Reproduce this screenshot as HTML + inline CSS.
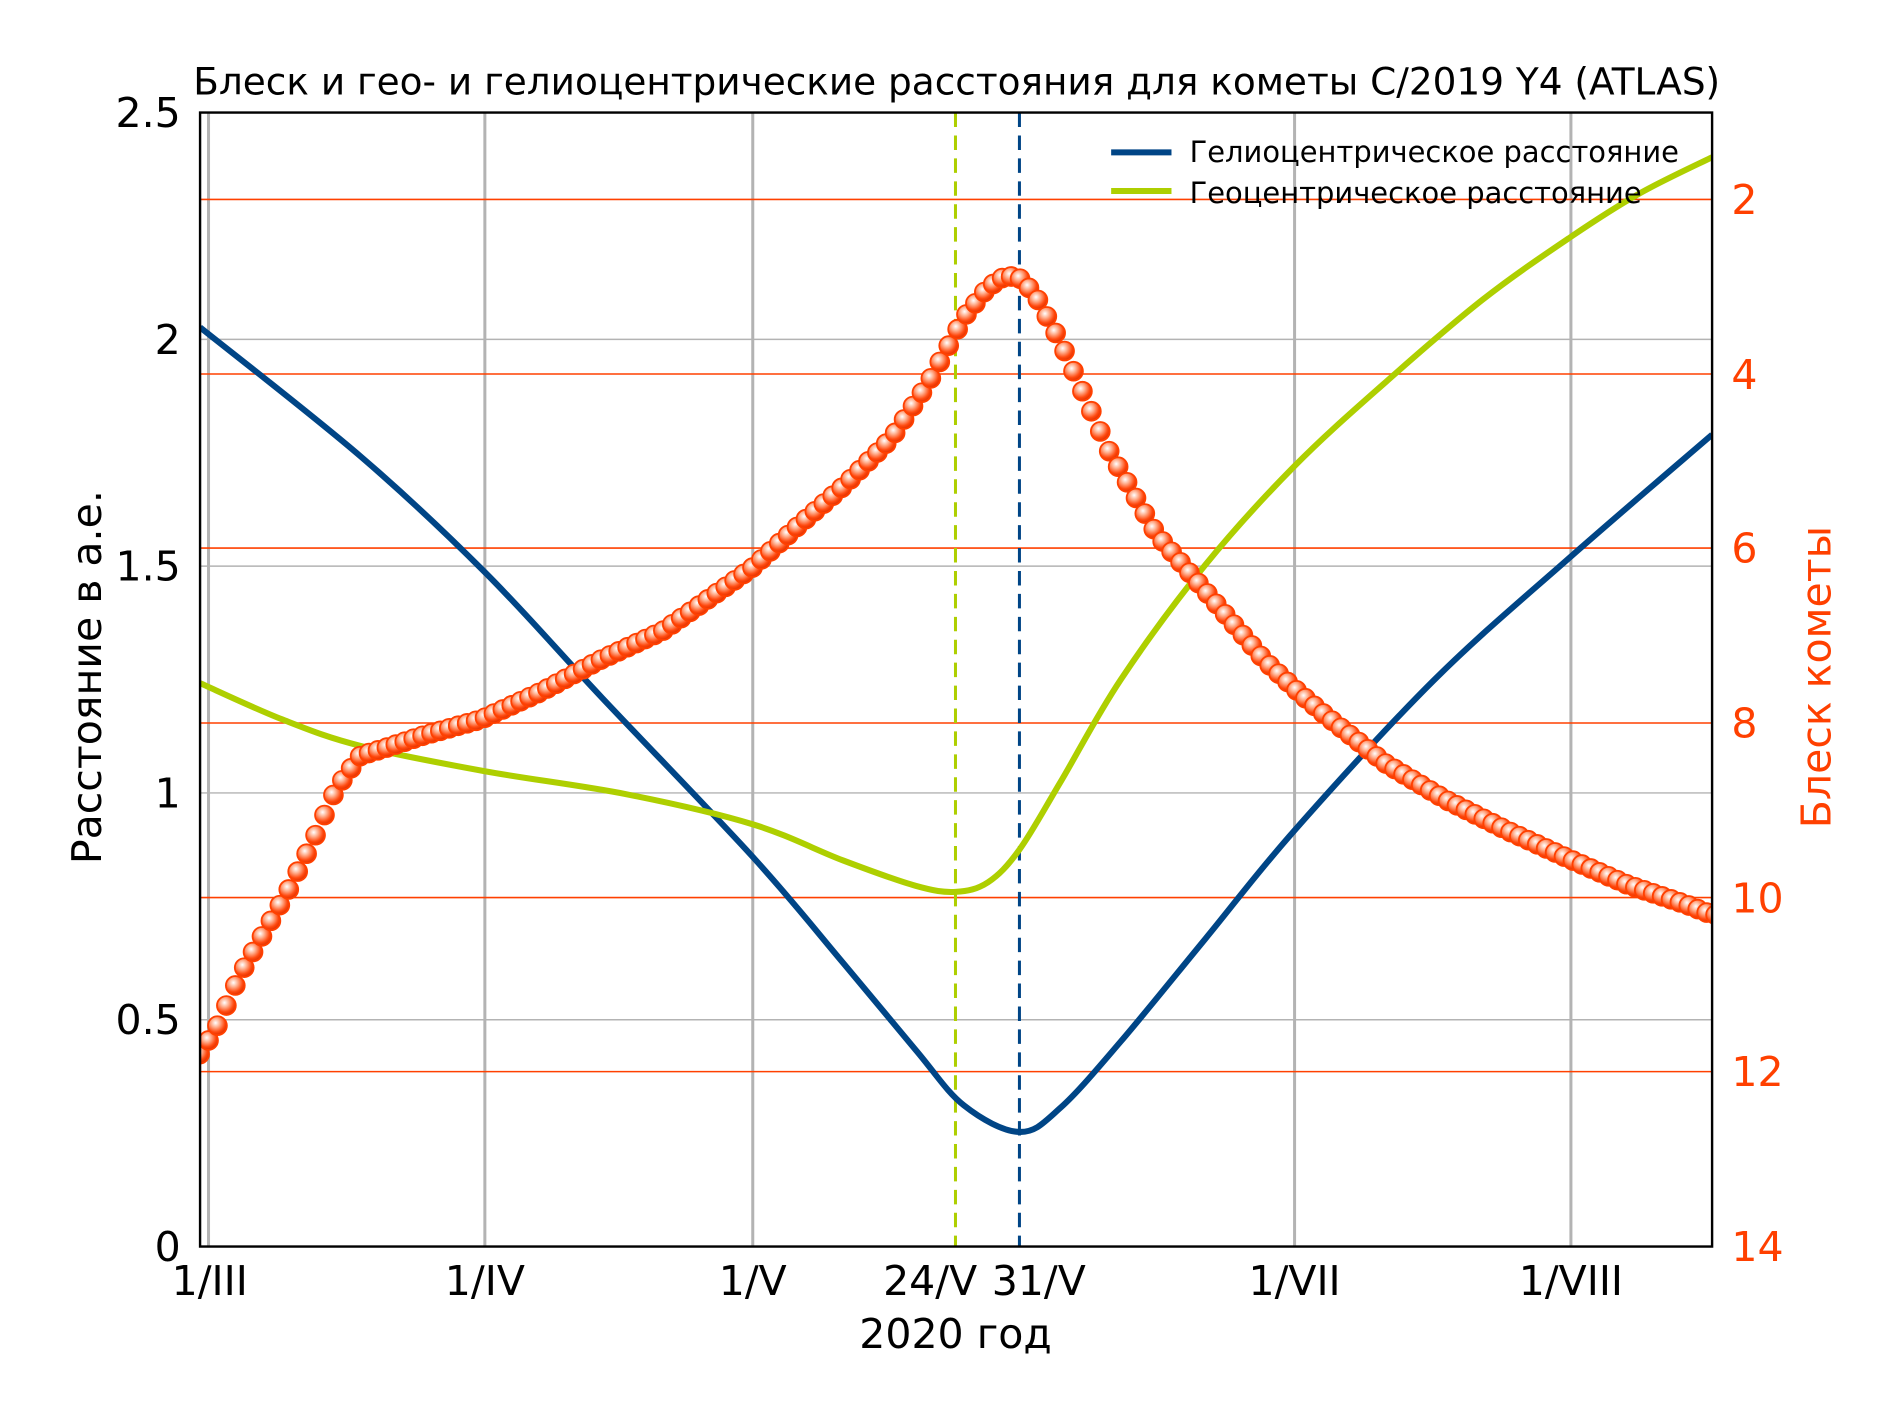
<!DOCTYPE html>
<html><head><meta charset="utf-8"><style>
html,body{margin:0;padding:0;background:#fff}
svg{display:block}
text{font-family:"DejaVu Sans","Liberation Sans",sans-serif}
</style></head><body>
<svg id="s" width="1889" height="1417" viewBox="1.2 1.7 1565.4 1174.6" preserveAspectRatio="none" xmlns="http://www.w3.org/2000/svg">
<defs>
<radialGradient id="g" cx="0.4" cy="0.35" r="0.65">
<stop offset="0" stop-color="#ffffff"/>
<stop offset="0.35" stop-color="#ffb090"/>
<stop offset="0.75" stop-color="#ff4a10"/>
<stop offset="1" stop-color="#e03000"/>
</radialGradient>
<clipPath id="c"><rect x="167" y="95" width="1253" height="940"/></clipPath>
</defs>
<rect x="0" y="0" width="1600" height="1200" fill="#fff"/>
<g stroke="#b3b3b3" stroke-width="2.5">
<line x1="174" y1="95" x2="174" y2="1035"/>
<line x1="403" y1="95" x2="403" y2="1035"/>
<line x1="625" y1="95" x2="625" y2="1035"/>
<line x1="1074" y1="95" x2="1074" y2="1035"/>
<line x1="1303" y1="95" x2="1303" y2="1035"/>
</g>
<g stroke="#b3b3b3" stroke-width="1.2">
<line x1="167" y1="847" x2="1420" y2="847"/>
<line x1="167" y1="659" x2="1420" y2="659"/>
<line x1="167" y1="471" x2="1420" y2="471"/>
<line x1="167" y1="283" x2="1420" y2="283"/>
</g>
<g stroke="#ff4000" stroke-width="1.3">
<line x1="167" y1="167" x2="1420" y2="167"/>
<line x1="167" y1="311.7" x2="1420" y2="311.7"/>
<line x1="167" y1="456" x2="1420" y2="456"/>
<line x1="167" y1="601" x2="1420" y2="601"/>
<line x1="167" y1="745.7" x2="1420" y2="745.7"/>
<line x1="167" y1="890" x2="1420" y2="890"/>
</g>
<line x1="793" y1="95" x2="793" y2="1035" stroke="#aecf00" stroke-width="2.5" stroke-dasharray="12,7"/>
<line x1="846" y1="95" x2="846" y2="1035" stroke="#004586" stroke-width="2.5" stroke-dasharray="12,7"/>
<g clip-path="url(#c)" fill="none" stroke-width="5" stroke-linejoin="round">
<path id="helio" stroke="#004586"/>
<path id="geo" stroke="#aecf00"/>
<g id="mk"></g>
</g>
<rect x="167" y="95" width="1253" height="940" fill="none" stroke="#000" stroke-width="2"/>
<g stroke-width="5"><line x1="922" y1="128" x2="972" y2="128" stroke="#004586"/><line x1="922" y1="160" x2="972" y2="160" stroke="#aecf00"/></g>
<text x="987" y="136" font-size="24">Гелиоцентрическое расстояние</text>
<text x="987" y="170" font-size="24">Геоцентрическое расстояние</text>
<text x="794" y="80" font-size="31" text-anchor="middle">Блеск и гео- и гелиоцентрические расстояния для кометы C/2019 Y4 (ATLAS)</text>
<g font-size="34" text-anchor="end">
<text x="151" y="1047">0</text><text x="151" y="859">0.5</text><text x="151" y="671">1</text>
<text x="151" y="483">1.5</text><text x="151" y="295">2</text><text x="151" y="107">2.5</text>
</g>
<g font-size="34" fill="#ff4000">
<text x="1436" y="179">2</text><text x="1436" y="324">4</text><text x="1436" y="468">6</text>
<text x="1436" y="613">8</text><text x="1436" y="758">10</text><text x="1436" y="902">12</text><text x="1436" y="1047">14</text>
</g>
<g font-size="34" text-anchor="middle">
<text x="175" y="1075">1/III</text><text x="403" y="1075">1/IV</text><text x="625" y="1075">1/V</text>
<text x="772" y="1075">24/V</text><text x="862" y="1075">31/V</text>
<text x="1074" y="1075">1/VII</text><text x="1303" y="1075">1/VIII</text>
<text x="793" y="1119">2020 год</text>
</g>
<text transform="translate(85,563) rotate(-90)" font-size="34" text-anchor="middle">Расстояние в а.е.</text>
<text transform="translate(1518,563) rotate(-90)" font-size="34" text-anchor="middle" fill="#ff4000">Блеск кометы</text>
</svg>
<script>
function sm(p){var d="M"+p[0][0]+","+p[0][1];for(var i=1;i<p.length;i++){var p0=p[i-2]||p[i-1],p1=p[i-1],p2=p[i],p3=p[i+1]||p2;
d+=" C"+(p1[0]+(p2[0]-p0[0])/6)+","+(p1[1]+(p2[1]-p0[1])/6)+" "+(p2[0]-(p3[0]-p1[0])/6)+","+(p2[1]-(p3[1]-p1[1])/6)+" "+p2[0]+","+p2[1];}return d;}
var H=[[167,273],[300,380],[403,476],[500,580],[625,712],[700,800],[760,872],[800,918],[846,940],[880,920],[930,865],[1000,780],[1074,690],[1190,565],[1303,463],[1420,362]];
var G=[[167,568],[235,598],[300,620],[403,641],[520,660],[625,685],[700,715],[760,736],[793,741],[820,733],[846,706],[880,650],[930,565],[1000,470],[1074,388],[1150,318],[1230,250],[1303,198],[1360,162],[1420,132]];
document.getElementById("helio").setAttribute("d",sm(H));
document.getElementById("geo").setAttribute("d",sm(G));
var M=[[167,875],[180,855],[200,810],[220,775],[240,740],[260,700],[280,655],[300,628],[320,622],[350,612],[400,598],[450,575],[500,548],[550,525],[600,490],[625,472],[660,440],[700,405],[740,365],[770,320],[800,265],[820,240],[835,230],[848,233],[860,248],[880,285],[900,330],[920,375],[940,410],[960,445],[990,480],[1020,515],[1050,550],[1080,578],[1100,595],[1150,635],[1200,665],[1250,690],[1300,713],[1350,735],[1400,752],[1420,760]];
function iy(x){for(var i=1;i<M.length;i++){if(x<=M[i][0]){var a=M[i-1],b=M[i];return a[1]+(b[1]-a[1])*(x-a[0])/(b[0]-a[0]);}}return M[M.length-1][1];}
var g=document.getElementById("mk"),h="";
for(var d=-1;d<=169;d++){var x=174+7.39*d;if(x<160)continue;h+='<circle cx="'+x.toFixed(1)+'" cy="'+iy(x).toFixed(1)+'" r="7.8" fill="url(#g)" stroke="#ff4000" stroke-width="1.5"/>';}
g.innerHTML=h;
</script>
</body></html>
